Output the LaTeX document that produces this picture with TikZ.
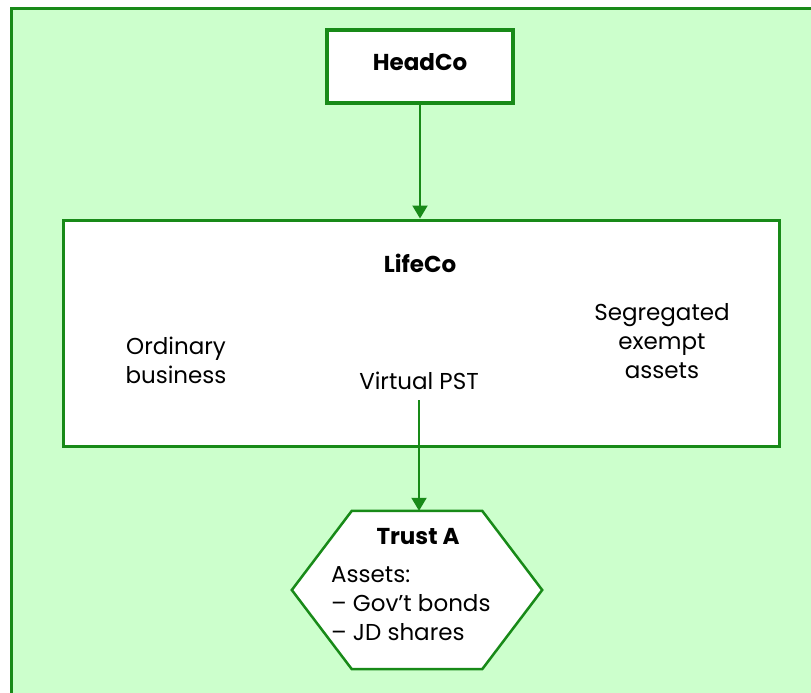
\documentclass[tikz,border=0pt]{standalone}
\usepackage{fontspec}
\setmainfont{Poppins}
\usetikzlibrary{arrows.meta,calc}
\definecolor{bggreen}{HTML}{CCFFCC}
\definecolor{lnGreen}{HTML}{188A18}
\tikzset{
  box/.style={draw=lnGreen, fill=white, inner sep=0pt},
  lbl/.style={font=\fontsize{23}{29}\selectfont, align=center, inner sep=0pt},
  bold/.style={font=\fontsize{23}{29}\selectfont\bfseries, inner sep=0pt},
  conn/.style={draw=lnGreen, line width=2pt, -{Triangle[length=13pt,width=15pt]}}
}
\begin{document}
\begin{tikzpicture}[x=1pt,y=-1pt]
\useasboundingbox (0,0) rectangle (811,693);
\fill[white] (0,0) rectangle (811,693);
\draw[draw=lnGreen, fill=bggreen, line width=3pt] (11.5,8.5) rectangle (840,720);
% HeadCo
\node[box, line width=4pt, minimum width=186pt, minimum height=73pt] (head) at (420,66.5) {};
\node[bold] (headt) at (420,62) {HeadCo};
% LifeCo
\node[box, line width=3pt, minimum width=716pt, minimum height=226pt] (life) at (421,333) {};
\node[bold] (lifet) at (420,263) {LifeCo};
\node[lbl] (ord) at (176,360) {Ordinary\\business};
\node[lbl] (vpst) at (419,381) {Virtual PST};
\node[lbl] (seg) at (662,341) {Segregated\\exempt\\assets};
% Trust A
\node[minimum width=250pt, minimum height=158pt, inner sep=0pt] (trust) at (417,590) {};
\draw[draw=lnGreen, fill=white, line width=2.5pt, line join=miter]
  (trust.west) -- ($(trust.north west)+(60,0)$) -- ($(trust.north east)+(-60,0)$)
  -- (trust.east) -- ($(trust.south east)+(-60,0)$) -- ($(trust.south west)+(60,0)$) -- cycle;
\node[bold] (trustt) at (418,537) {Trust A};
\node[lbl, align=left, anchor=west] (assets) at (331,604) {Assets:\\– Gov’t bonds\\– JD shares};
% connectors
\coordinate (vstart) at (419,400);
\draw[conn] (head.south) -- (life.north -| head.south);
\draw[conn] (vstart) -- (trust.north -| vstart);
\end{tikzpicture}
\end{document}
